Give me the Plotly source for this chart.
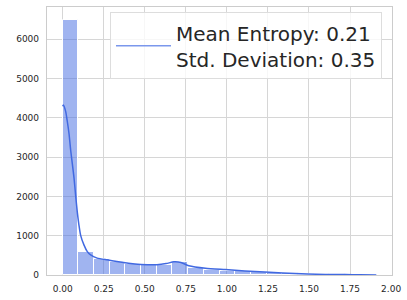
import plotly.graph_objects as go

# Histogram data (20 equal bins from 0 to 1.91)
bin_left = [0.0, 0.0955, 0.191, 0.2865, 0.382, 0.4775, 0.573, 0.6685, 0.764, 0.8595,
            0.955, 1.0505, 1.146, 1.2415, 1.337, 1.4325, 1.528, 1.6235, 1.719, 1.8145]
bin_width = 0.0955
counts = [6490, 575, 400, 320, 272, 255, 252, 335, 186, 138,
          112, 100, 76, 55, 42, 30, 22, 15, 9, 5]

# KDE curve (scaled to counts)
kde_x = [0.0, 0.004, 0.018, 0.028, 0.039, 0.049, 0.059, 0.069, 0.079, 0.089, 0.099,
         0.109, 0.13, 0.15, 0.17, 0.21, 0.27, 0.33, 0.40, 0.475, 0.574, 0.63, 0.677,
         0.72, 0.768, 0.87, 0.99, 1.11, 1.23, 1.34, 1.49, 1.6, 1.72, 1.81, 1.91]
kde_y = [4290, 4320, 4160, 3910, 3580, 3160, 2820, 2470, 2020, 1600, 1270,
         1015, 760, 595, 510, 430, 385, 345, 300, 270, 262, 290, 335,
         320, 235, 170, 137, 103, 78, 50, 25, 15, 10, 6, 3]

legend_label = "Mean Entropy: 0.21<br>Std. Deviation: 0.35"

x_ticks = [0.0, 0.25, 0.5, 0.75, 1.0, 1.25, 1.5, 1.75, 2.0]
y_ticks = [0, 1000, 2000, 3000, 4000, 5000, 6000]

centers = [b + bin_width / 2 for b in bin_left]

fig = go.Figure()
fig.add_trace(go.Bar(
    x=centers, y=counts, width=[bin_width] * len(counts),
    marker=dict(color="rgba(65,105,225,0.5)", line=dict(color="white", width=1)),
    showlegend=False, hoverinfo="skip",
))
fig.add_trace(go.Scatter(
    x=kde_x, y=kde_y, mode="lines",
    line=dict(color="#4169E1", width=1.5, shape="spline", smoothing=0.6),
    showlegend=False,
))
fig.add_trace(go.Scatter(
    x=[None], y=[None], mode="lines",
    line=dict(color="#7b97ec", width=1.5),
    name=legend_label, showlegend=True,
))

axis_common = dict(
    showgrid=True, gridcolor="#d6d6d6", gridwidth=1,
    showline=True, linecolor="#cccccc", linewidth=1.25, mirror=True,
    zeroline=False, ticks="outside", ticklen=5, tickcolor="rgba(0,0,0,0)",
    tickfont=dict(family="DejaVu Sans", size=9, color="#262626"),
)

fig.update_layout(
    width=407, height=300,
    margin=dict(l=47, r=13, t=6, b=23),
    paper_bgcolor="white", plot_bgcolor="white",
    bargap=0,
    xaxis=dict(range=[-0.0955, 2.0055], tickvals=x_ticks, tickformat=".2f", **axis_common),
    yaxis=dict(range=[0, 6815], tickvals=y_ticks, **axis_common),
    legend=dict(
        x=0.971, xanchor="right", y=0.98, yanchor="top",
        bgcolor="rgba(255,255,255,0.8)", bordercolor="#dddddd", borderwidth=1,
        font=dict(family="DejaVu Sans", size=20, color="#262626"),
        valign="middle", itemwidth=55,
    ),
)

fig.write_html("out.html", config={"displayModeBar": False},
               post_script="document.body.style.margin='0';")
